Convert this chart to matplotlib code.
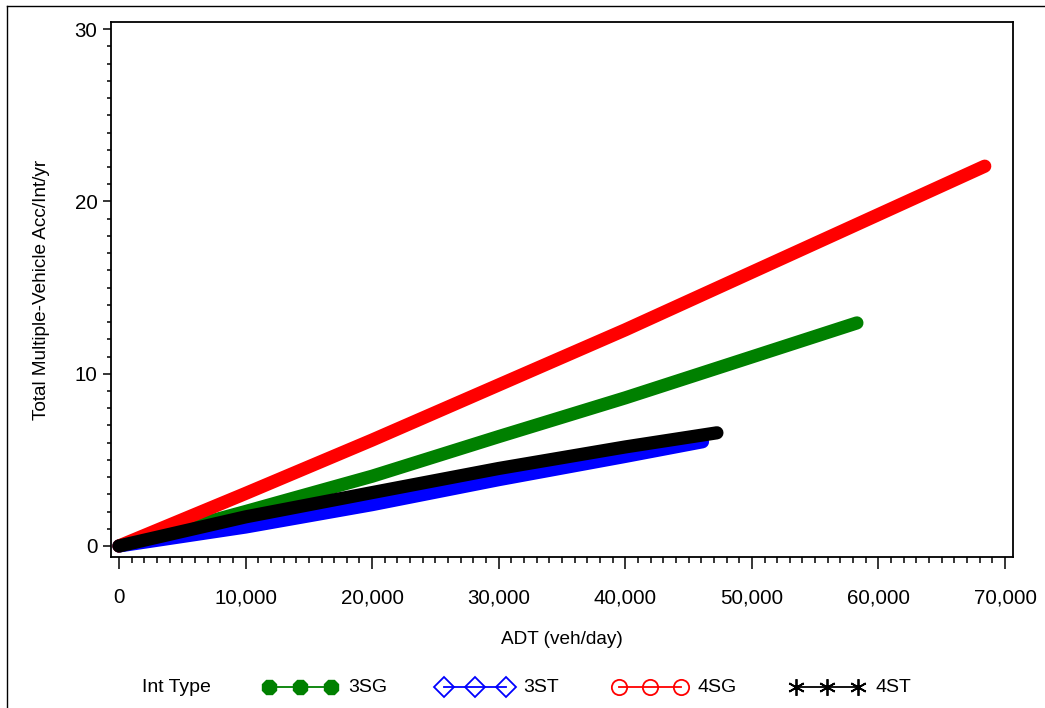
import matplotlib
matplotlib.use("Agg")
import matplotlib.pyplot as plt
from matplotlib.lines import Line2D
from matplotlib.ticker import FuncFormatter, MultipleLocator

plt.rcParams['font.family'] = ['Liberation Sans', 'DejaVu Sans']

# ---- data ----
adt_3sg = [0, 10000, 20000, 30000, 40000, 58300]
acc_3sg = [0.0, 2.00, 4.05, 6.35, 8.60, 12.95]

adt_3st = [0, 10000, 20000, 30000, 40000, 46100]
acc_3st = [0.0, 1.10, 2.40, 3.85, 5.20, 6.05]

adt_4sg = [0, 10000, 20000, 30000, 40000, 68400]
acc_4sg = [0.0, 3.05, 6.15, 9.35, 12.55, 22.05]

adt_4st = [0, 10000, 20000, 30000, 40000, 47240]
acc_4st = [0.0, 1.69, 3.10, 4.50, 5.75, 6.57]

series_names = ["3SG", "3ST", "4SG", "4ST"]
colors = ["#008000", "#0000FF", "#FF0000", "#000000"]
legend_title = "Int Type"
x_label = "ADT (veh/day)"
y_label = "Total Multiple-Vehicle Acc/Int/yr"
x_ticks = [0, 10000, 20000, 30000, 40000, 50000, 60000, 70000]
y_ticks = [0, 10, 20, 30]

W, H = 1045, 708
fig = plt.figure(figsize=(W / 100, H / 100), dpi=100)

# outer frame (top and left visible)
fig.add_artist(Line2D([7 / W, 7 / W], [1 - 6 / H, 0], color="black", lw=1.0))
fig.add_artist(Line2D([7 / W, 1], [1 - 6 / H, 1 - 6 / H], color="black", lw=1.0))

ax = fig.add_axes([111 / W, 1 - 557 / H, (1013 - 111) / W, (557 - 22) / H])

data = [(adt_3sg, acc_3sg), (adt_3st, acc_3st), (adt_4sg, acc_4sg), (adt_4st, acc_4st)]
for (xs, ys), c in zip(data, colors):
    ax.plot(xs, ys, color=c, lw=9.5, solid_capstyle="round", solid_joinstyle="round")

ax.set_xlim(-632, 70632)
ax.set_ylim(-0.64, 30.42)
ax.set_xticks(x_ticks)
ax.set_yticks(y_ticks)
ax.xaxis.set_minor_locator(MultipleLocator(1000))
ax.yaxis.set_minor_locator(MultipleLocator(1))
ax.xaxis.set_major_formatter(FuncFormatter(lambda v, p: f"{int(v):,}"))
ax.tick_params(axis="x", which="major", direction="out", length=8.6, width=1.1, pad=14, labelsize=14.8)
ax.tick_params(axis="x", which="minor", direction="out", length=4.3, width=1.1)
ax.tick_params(axis="y", which="major", direction="out", length=5.8, width=1.1, pad=4, labelsize=14.8)
ax.tick_params(axis="y", which="minor", direction="out", length=2.9, width=1.1)
for s in ax.spines.values():
    s.set_linewidth(1.3)

ax.set_xlabel(x_label, fontsize=13.7, labelpad=17)
ax.set_ylabel(y_label, fontsize=13.7, labelpad=18)

# legend row at bottom
lax = fig.add_axes([0, 0, 1, 40 / H])
lax.set_xlim(0, W)
lax.set_ylim(0, 40)
lax.axis("off")
ly = 40 - (687 - (H - 40))
lax.text(142, ly, legend_title, fontsize=14, va="center", ha="left")
markers = [dict(marker="8", mfc=colors[0], mec=colors[0], ms=11),
           dict(marker="D", mfc="none", mec=colors[1], ms=10, mew=1.3),
           dict(marker="o", mfc="none", mec=colors[2], ms=11, mew=1.3),
           dict(marker=(6, 2, 0), mfc=colors[3], mec=colors[3], ms=12, mew=1.3)]
starts = [265, 440, 615, 792]
for x0, name, c, mk in zip(starts, series_names, colors, markers):
    lax.plot([x0 + 4, x0 + 35, x0 + 66], [ly] * 3, color=c, lw=1.3, **mk)
    lax.text(x0 + 83, ly, name, fontsize=14, va="center", ha="left")

fig.savefig("out.png", dpi=100)
